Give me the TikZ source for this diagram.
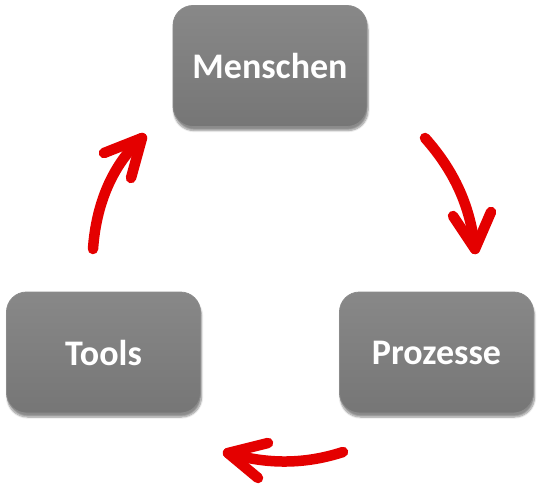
\documentclass[tikz,border=0pt]{standalone}
\usepackage{fontspec}
\setmainfont{Carlito}
\usetikzlibrary{shadows.blur}
\definecolor{boxgray}{RGB}{126,126,126}
\definecolor{boxtop}{RGB}{136,136,136}
\definecolor{boxbot}{RGB}{118,118,118}
\definecolor{arrowred}{RGB}{228,0,0}
\tikzset{
  cyclebox/.style={rectangle, rounded corners=20pt, minimum width=194pt, minimum height=121pt,
    top color=boxtop, bottom color=boxbot, draw=boxgray!90!white, line width=0.8pt,
    blur shadow={shadow xshift=1pt, shadow yshift=-4pt, shadow blur steps=8, shadow opacity=45},
    text=white, font=\fontsize{36}{40}\selectfont\bfseries, inner sep=0pt},
  redshaft/.style={draw=arrowred, line width=10.5pt, line cap=round},
  redhead/.style={draw=arrowred, line width=10.5pt, line cap=round, line join=round}
}
\begin{document}
\begin{tikzpicture}[x=1pt,y=-1pt]
\useasboundingbox (0,0) rectangle (540,494);
\node[cyclebox] (m) at (270,66) {Menschen};
\node[cyclebox] (t) at (103.5,352.5) {Tools};
\node[cyclebox] (p) at (436.5,352.5) {Prozesse};
% arrow Menschen -> Prozesse
\coordinate (a1s) at (425,138);
\coordinate (a1t) at (475,249);
\coordinate (a1l) at (453,216);
\coordinate (a1r) at (491,212);
\draw[redshaft] (a1s) .. controls (458,175) and (471,212) .. (a1t);
\draw[redhead] (a1l) -- (a1t) -- (a1r);
% arrow Prozesse -> Tools
\coordinate (a2s) at (343,452);
\coordinate (a2t) at (228,453);
\coordinate (a2l) at (268,443);
\coordinate (a2r) at (258,478);
\draw[redshaft] (a2s) .. controls (300,466) and (262,463) .. (a2t);
\draw[redhead] (a2l) -- (a2t) -- (a2r);
% arrow Tools -> Menschen
\coordinate (a3s) at (93,249);
\coordinate (a3t) at (142,138);
\coordinate (a3l) at (104,153);
\coordinate (a3r) at (131,178);
\draw[redshaft] (a3s) .. controls (96,205) and (112,165) .. (a3t);
\draw[redhead] (a3l) -- (a3t) -- (a3r);
\end{tikzpicture}
\end{document}
